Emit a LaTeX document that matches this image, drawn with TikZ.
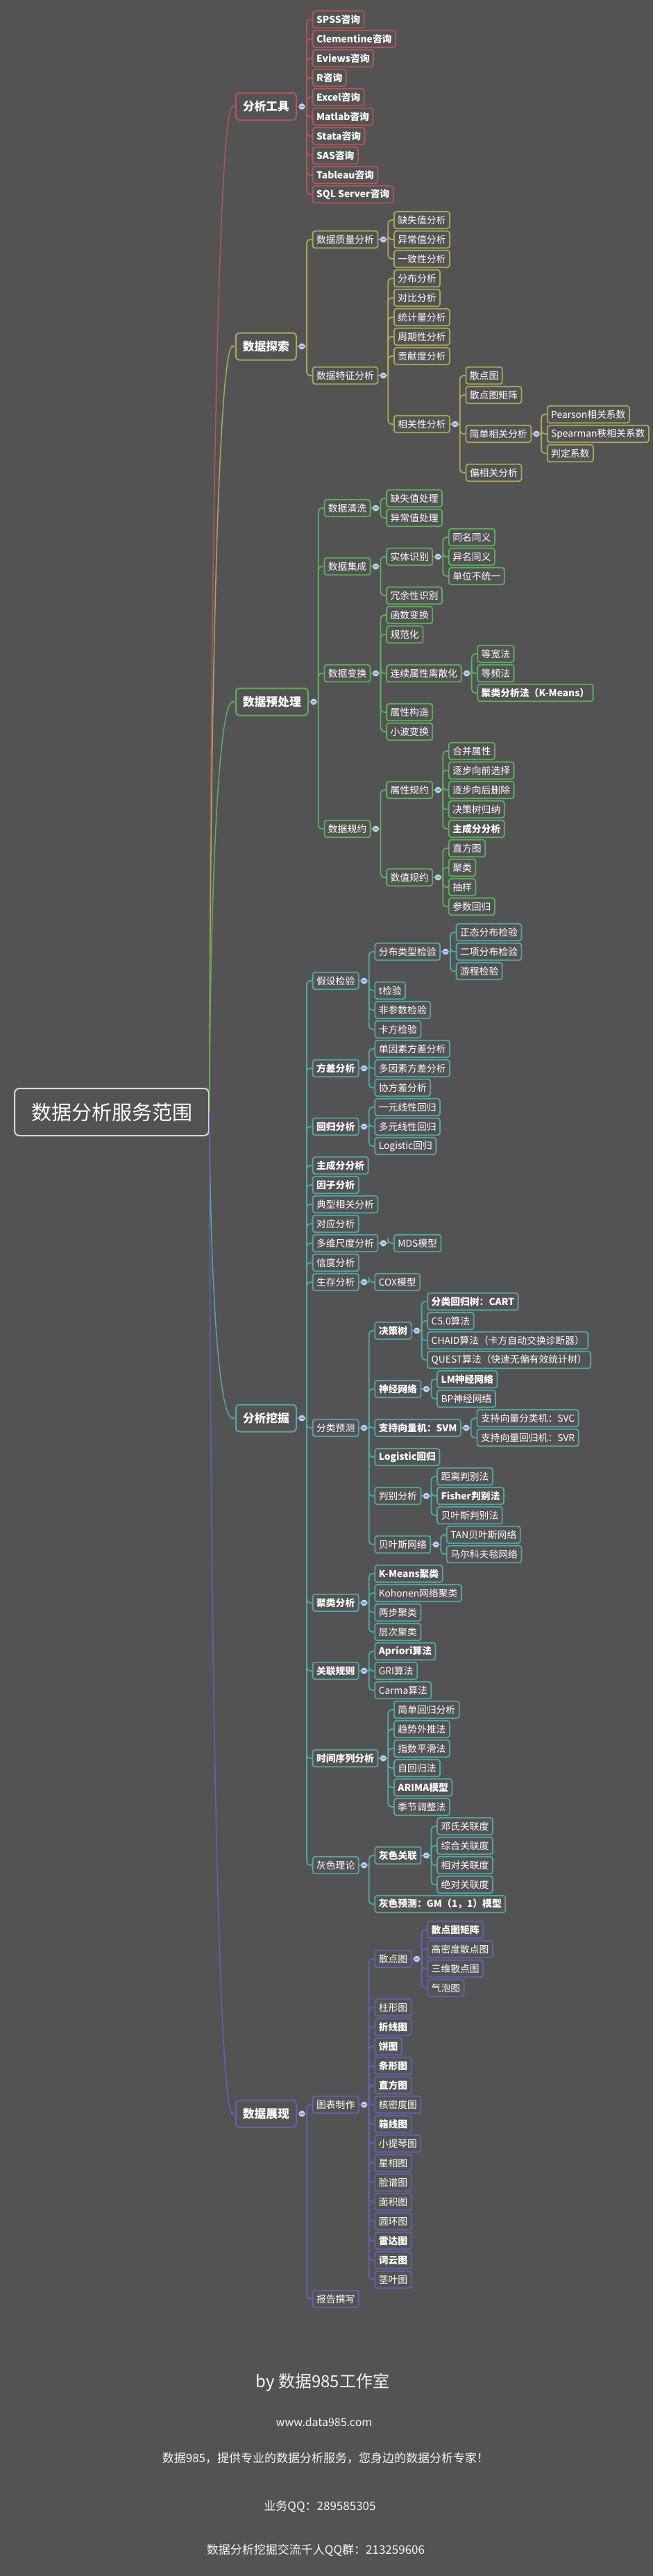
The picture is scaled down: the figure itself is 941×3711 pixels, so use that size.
\documentclass[tikz,border=0pt]{standalone}
\usepackage{fontspec}
\setmainfont{Noto Sans CJK SC}
\usetikzlibrary{arrows.meta, positioning, calc}

\definecolor{bg}{RGB}{83,83,83}
\definecolor{redc}{RGB}{178,86,88}
\definecolor{yelc}{RGB}{170,168,86}
\definecolor{grnc}{RGB}{92,176,92}
\definecolor{tealc}{RGB}{80,168,166}
\definecolor{purc}{RGB}{98,98,178}
\definecolor{hubc}{RGB}{215,215,215}
\definecolor{dotc}{RGB}{196,208,240}
\definecolor{dotbar}{RGB}{120,140,200}
\colorlet{brc}{redc}

\begin{document}
\begin{tikzpicture}[x=1pt, y=-1pt,
    box/.style={draw=brc, line width=1.8pt, rounded corners=3.5pt, fill=bg,
                text=white, font=\fontsize{13.8}{16}\selectfont,
                inner xsep=5.5pt, inner ysep=0pt, minimum height=24.5pt},
    bbox/.style={box, font=\fontsize{13.8}{16}\selectfont\bfseries},
    topic/.style={box, line width=2pt, rounded corners=5pt,
                  font=\fontsize{16.8}{19}\selectfont\bfseries,
                  inner xsep=10pt, minimum height=39pt, anchor=west},
    hub/.style={draw=hubc, line width=2pt, rounded corners=7pt, fill=bg,
                text=white, font=\fontsize{29}{32}\selectfont,
                inner xsep=24pt, minimum height=68pt},
    kid/.style={anchor=west, xshift=21.7pt},
    lnk/.style={brc, line width=1.8pt, rounded corners=5pt},
    arr/.style={brc, line width=1.5pt, -{Stealth[length=6pt, width=5pt]}},
    dot/.style={circle, fill=dotc, minimum size=9pt, inner sep=0pt,
                path picture={\draw[dotbar, line width=1.3pt]
                  ([xshift=-2.6pt]path picture bounding box.center) --
                  ([xshift=2.6pt]path picture bounding box.center);}},
    foot/.style={text=white!92!gray}
  ]
  \useasboundingbox (0,0) rectangle (941,3711);
  \fill[bg] (0,0) rectangle (941,3711);

  % Root
  \node[hub] (root) at (161,1602) {数据分析服务范围};

  % ---------------- 分析工具
  \begin{scope}
  \colorlet{brc}{redc}
  \node[topic] (tools) at (338.8,153.5) {分析工具};
  \node[bbox, kid] (spss) at (tools.east |- 0,28) {SPSS咨询};
  \node[bbox, kid] (clem) at (tools.east |- 0,56) {Clementine咨询};
  \node[bbox, kid] (eviews) at (tools.east |- 0,84) {Eviews咨询};
  \node[bbox, kid] (rr) at (tools.east |- 0,112) {R咨询};
  \node[bbox, kid] (excel) at (tools.east |- 0,140) {Excel咨询};
  \node[bbox, kid] (matlab) at (tools.east |- 0,168) {Matlab咨询};
  \node[bbox, kid] (stata) at (tools.east |- 0,196) {Stata咨询};
  \node[bbox, kid] (sas) at (tools.east |- 0,224) {SAS咨询};
  \node[bbox, kid] (tableau) at (tools.east |- 0,252) {Tableau咨询};
  \node[bbox, kid] (sql) at (tools.east |- 0,280) {SQL Server咨询};
  \foreach \k in {spss,clem,eviews,rr,excel,matlab,stata,sas,tableau,sql}
    \draw[lnk] (tools.east) ++(14,0) |- (\k.west);
  \draw[lnk] (tools.east) -- ++(14,0);
  \node[dot] at ([xshift=7pt]tools.east) {};
  \draw[arr] (root.east) .. controls +(0,-594) and +(-27,0) .. (tools.west);
  \end{scope}

  % ---------------- 数据探索
  \begin{scope}
  \colorlet{brc}{yelc}
  \node[topic] (explore) at (338.8,499) {数据探索};
  \node[box, kid] (quality) at (explore.east |- 0,345) {数据质量分析};
  \node[box, kid] (feature) at (explore.east |- 0,541) {数据特征分析};
  \node[box, kid] (miss) at (quality.east |- 0,317) {缺失值分析};
  \node[box, kid] (outl) at (quality.east |- 0,345) {异常值分析};
  \node[box, kid] (consis) at (quality.east |- 0,373) {一致性分析};
  \node[box, kid] (distr) at (feature.east |- 0,401) {分布分析};
  \node[box, kid] (contr) at (feature.east |- 0,429) {对比分析};
  \node[box, kid] (stats) at (feature.east |- 0,457) {统计量分析};
  \node[box, kid] (period) at (feature.east |- 0,485) {周期性分析};
  \node[box, kid] (contrib) at (feature.east |- 0,513) {贡献度分析};
  \node[box, kid] (corr) at (feature.east |- 0,611) {相关性分析};
  \node[box, kid] (scat) at (corr.east |- 0,541) {散点图};
  \node[box, kid] (scatm) at (corr.east |- 0,569) {散点图矩阵};
  \node[box, kid] (simple) at (corr.east |- 0,625) {简单相关分析};
  \node[box, kid] (partial) at (corr.east |- 0,681) {偏相关分析};
  \node[box, kid] (pearson) at (simple.east |- 0,597) {Pearson相关系数};
  \node[box, kid] (spearman) at (simple.east |- 0,625) {Spearman秩相关系数};
  \node[box, kid] (rsq) at (simple.east |- 0,653) {判定系数};
  \foreach \p/\k in {explore/quality, explore/feature,
      quality/miss, quality/outl, quality/consis,
      feature/distr, feature/contr, feature/stats, feature/period,
      feature/contrib, feature/corr,
      corr/scat, corr/scatm, corr/simple, corr/partial,
      simple/pearson, simple/spearman, simple/rsq}
    \draw[lnk] (\p.east) ++(14,0) |- (\k.west);
  \foreach \p in {explore, quality, feature, corr, simple} {
    \draw[lnk] (\p.east) -- ++(14,0);
    \node[dot] at ([xshift=7pt]\p.east) {};
  }
  \draw[arr] (root.east) .. controls +(0,-451) and +(-27,0) .. (explore.west);
  \end{scope}

  % ---------------- 数据预处理
  \begin{scope}
  \colorlet{brc}{grnc}
  \node[topic] (prep) at (338.8,1011) {数据预处理};
  \node[box, kid] (clean) at (prep.east |- 0,732) {数据清洗};
  \node[box, kid] (integ) at (prep.east |- 0,816) {数据集成};
  \node[box, kid] (trans) at (prep.east |- 0,970) {数据变换};
  \node[box, kid] (reduce) at (prep.east |- 0,1194) {数据规约};
  \node[box, kid] (cmiss) at (clean.east |- 0,718) {缺失值处理};
  \node[box, kid] (cout) at (clean.east |- 0,746) {异常值处理};
  \node[box, kid] (entity) at (integ.east |- 0,802) {实体识别};
  \node[box, kid] (redund) at (integ.east |- 0,858) {冗余性识别};
  \node[box, kid] (same) at (entity.east |- 0,774) {同名同义};
  \node[box, kid] (diff) at (entity.east |- 0,802) {异名同义};
  \node[box, kid] (unit) at (entity.east |- 0,830) {单位不统一};
  \node[box, kid] (func) at (trans.east |- 0,886) {函数变换};
  \node[box, kid] (norm) at (trans.east |- 0,914) {规范化};
  \node[box, kid] (discr) at (trans.east |- 0,970) {连续属性离散化};
  \node[box, kid] (constr) at (trans.east |- 0,1026) {属性构造};
  \node[box, kid] (wavelet) at (trans.east |- 0,1054) {小波变换};
  \node[box, kid] (ew) at (discr.east |- 0,942) {等宽法};
  \node[box, kid] (ef) at (discr.east |- 0,970) {等频法};
  \node[bbox, kid] (km) at (discr.east |- 0,998) {聚类分析法（K-Means）};
  \node[box, kid] (attr) at (reduce.east |- 0,1138) {属性规约};
  \node[box, kid] (numr) at (reduce.east |- 0,1264) {数值规约};
  \node[box, kid] (merge) at (attr.east |- 0,1082) {合并属性};
  \node[box, kid] (fwd) at (attr.east |- 0,1110) {逐步向前选择};
  \node[box, kid] (bwd) at (attr.east |- 0,1138) {逐步向后删除};
  \node[box, kid] (dtree) at (attr.east |- 0,1166) {决策树归纳};
  \node[bbox, kid] (pca) at (attr.east |- 0,1194) {主成分分析};
  \node[box, kid] (hist) at (numr.east |- 0,1222) {直方图};
  \node[box, kid] (clus) at (numr.east |- 0,1250) {聚类};
  \node[box, kid] (samp) at (numr.east |- 0,1278) {抽样};
  \node[box, kid] (preg) at (numr.east |- 0,1306) {参数回归};
  \foreach \p/\k in {prep/clean, prep/integ, prep/trans, prep/reduce,
      clean/cmiss, clean/cout, integ/entity, integ/redund,
      entity/same, entity/diff, entity/unit,
      trans/func, trans/norm, trans/discr, trans/constr, trans/wavelet,
      discr/ew, discr/ef, discr/km, reduce/attr, reduce/numr,
      attr/merge, attr/fwd, attr/bwd, attr/dtree, attr/pca,
      numr/hist, numr/clus, numr/samp, numr/preg}
    \draw[lnk] (\p.east) ++(14,0) |- (\k.west);
  \foreach \p in {prep, clean, integ, entity, trans, discr, reduce, attr, numr} {
    \draw[lnk] (\p.east) -- ++(14,0);
    \node[dot] at ([xshift=7pt]\p.east) {};
  }
  \draw[arr] (root.east) .. controls +(0,-242) and +(-27,0) .. (prep.west);
  \end{scope}

  % ---------------- 分析挖掘
  \begin{scope}
  \colorlet{brc}{tealc}
  \node[topic] (mine) at (338.8,2043) {分析挖掘};
  \node[box, kid] (hyp) at (mine.east |- 0,1413) {假设检验};
  \node[bbox, kid] (anova) at (mine.east |- 0,1539) {方差分析};
  \node[bbox, kid] (regr) at (mine.east |- 0,1623) {回归分析};
  \node[bbox, kid] (pcaa) at (mine.east |- 0,1679) {主成分分析};
  \node[bbox, kid] (factor) at (mine.east |- 0,1707) {因子分析};
  \node[box, kid] (cca) at (mine.east |- 0,1735) {典型相关分析};
  \node[box, kid] (corresp) at (mine.east |- 0,1763) {对应分析};
  \node[box, kid] (mds) at (mine.east |- 0,1791) {多维尺度分析};
  \node[box, kid] (rel) at (mine.east |- 0,1819) {信度分析};
  \node[box, kid] (surv) at (mine.east |- 0,1847) {生存分析};
  \node[box, kid] (cls) at (mine.east |- 0,2057) {分类预测};
  \node[bbox, kid] (clu) at (mine.east |- 0,2309) {聚类分析};
  \node[bbox, kid] (assoc) at (mine.east |- 0,2407) {关联规则};
  \node[bbox, kid] (ts) at (mine.east |- 0,2533) {时间序列分析};
  \node[box, kid] (grey) at (mine.east |- 0,2687) {灰色理论};
  % 假设检验
  \node[box, kid] (dtype) at (hyp.east |- 0,1371) {分布类型检验};
  \node[box, kid] (ttest) at (hyp.east |- 0,1427) {t检验};
  \node[box, kid] (nonpar) at (hyp.east |- 0,1455) {非参数检验};
  \node[box, kid] (chisq) at (hyp.east |- 0,1483) {卡方检验};
  \node[box, kid] (normal) at (dtype.east |- 0,1343) {正态分布检验};
  \node[box, kid] (binom) at (dtype.east |- 0,1371) {二项分布检验};
  \node[box, kid] (runs) at (dtype.east |- 0,1399) {游程检验};
  % 方差 / 回归
  \node[box, kid] (one) at (anova.east |- 0,1511) {单因素方差分析};
  \node[box, kid] (multi) at (anova.east |- 0,1539) {多因素方差分析};
  \node[box, kid] (cov) at (anova.east |- 0,1567) {协方差分析};
  \node[box, kid] (lin) at (regr.east |- 0,1595) {一元线性回归};
  \node[box, kid] (mlin) at (regr.east |- 0,1623) {多元线性回归};
  \node[box, kid] (logit) at (regr.east |- 0,1651) {Logistic回归};
  \node[box, kid] (mdsm) at (mds.east |- 0,1791) {MDS模型};
  \node[box, kid] (cox) at (surv.east |- 0,1847) {COX模型};
  % 分类预测
  \node[bbox, kid] (tree) at (cls.east |- 0,1917) {决策树};
  \node[bbox, kid] (nn) at (cls.east |- 0,2001) {神经网络};
  \node[bbox, kid] (svm) at (cls.east |- 0,2057) {支持向量机：SVM};
  \node[bbox, kid] (lgr) at (cls.east |- 0,2099) {Logistic回归};
  \node[box, kid] (disc) at (cls.east |- 0,2155) {判别分析};
  \node[box, kid] (bayes) at (cls.east |- 0,2225) {贝叶斯网络};
  \node[bbox, kid] (cart) at (tree.east |- 0,1875) {分类回归树：CART};
  \node[box, kid] (c50) at (tree.east |- 0,1903) {C5.0算法};
  \node[box, kid] (chaid) at (tree.east |- 0,1931) {CHAID算法（卡方自动交换诊断器）};
  \node[box, kid] (quest) at (tree.east |- 0,1959) {QUEST算法（快速无偏有效统计树）};
  \node[bbox, kid] (lm) at (nn.east |- 0,1987) {LM神经网络};
  \node[box, kid] (bp) at (nn.east |- 0,2015) {BP神经网络};
  \node[box, kid] (svc) at (svm.east |- 0,2043) {支持向量分类机：SVC};
  \node[box, kid] (svr) at (svm.east |- 0,2071) {支持向量回归机：SVR};
  \node[box, kid] (dist) at (disc.east |- 0,2127) {距离判别法};
  \node[bbox, kid] (fisher) at (disc.east |- 0,2155) {Fisher判别法};
  \node[box, kid] (bayesd) at (disc.east |- 0,2183) {贝叶斯判别法};
  \node[box, kid] (tan) at (bayes.east |- 0,2211) {TAN贝叶斯网络};
  \node[box, kid] (markov) at (bayes.east |- 0,2239) {马尔科夫毯网络};
  % 聚类 / 关联 / 时序 / 灰色
  \node[bbox, kid] (kmeans) at (clu.east |- 0,2267) {K-Means聚类};
  \node[box, kid] (kohonen) at (clu.east |- 0,2295) {Kohonen网络聚类};
  \node[box, kid] (twostep) at (clu.east |- 0,2323) {两步聚类};
  \node[box, kid] (hier) at (clu.east |- 0,2351) {层次聚类};
  \node[bbox, kid] (apriori) at (assoc.east |- 0,2379) {Apriori算法};
  \node[box, kid] (gri) at (assoc.east |- 0,2407) {GRI算法};
  \node[box, kid] (carma) at (assoc.east |- 0,2435) {Carma算法};
  \node[box, kid] (sreg) at (ts.east |- 0,2463) {简单回归分析};
  \node[box, kid] (trend) at (ts.east |- 0,2491) {趋势外推法};
  \node[box, kid] (smooth) at (ts.east |- 0,2519) {指数平滑法};
  \node[box, kid] (ar) at (ts.east |- 0,2547) {自回归法};
  \node[bbox, kid] (arima) at (ts.east |- 0,2575) {ARIMA模型};
  \node[box, kid] (season) at (ts.east |- 0,2603) {季节调整法};
  \node[bbox, kid] (greya) at (grey.east |- 0,2673) {灰色关联};
  \node[bbox, kid] (gm) at (grey.east |- 0,2743) {灰色预测：GM（1，1）模型};
  \node[box, kid] (deng) at (greya.east |- 0,2631) {邓氏关联度};
  \node[box, kid] (comb) at (greya.east |- 0,2659) {综合关联度};
  \node[box, kid] (relat) at (greya.east |- 0,2687) {相对关联度};
  \node[box, kid] (absol) at (greya.east |- 0,2715) {绝对关联度};
  \foreach \p/\k in {mine/hyp, mine/anova, mine/regr, mine/pcaa, mine/factor,
      mine/cca, mine/corresp, mine/mds, mine/rel, mine/surv, mine/cls,
      mine/clu, mine/assoc, mine/ts, mine/grey,
      hyp/dtype, hyp/ttest, hyp/nonpar, hyp/chisq,
      dtype/normal, dtype/binom, dtype/runs,
      anova/one, anova/multi, anova/cov, regr/lin, regr/mlin, regr/logit,
      mds/mdsm, surv/cox,
      cls/tree, cls/nn, cls/svm, cls/lgr, cls/disc, cls/bayes,
      tree/cart, tree/c50, tree/chaid, tree/quest, nn/lm, nn/bp,
      svm/svc, svm/svr, disc/dist, disc/fisher, disc/bayesd,
      bayes/tan, bayes/markov,
      clu/kmeans, clu/kohonen, clu/twostep, clu/hier,
      assoc/apriori, assoc/gri, assoc/carma,
      ts/sreg, ts/trend, ts/smooth, ts/ar, ts/arima, ts/season,
      grey/greya, grey/gm, greya/deng, greya/comb, greya/relat, greya/absol}
    \draw[lnk] (\p.east) ++(14,0) |- (\k.west);
  \foreach \p in {mine, hyp, dtype, anova, regr, mds, surv, cls, tree, nn,
      svm, disc, bayes, clu, assoc, ts, grey, greya} {
    \draw[lnk] (\p.east) -- ++(14,0);
    \node[dot] at ([xshift=7pt]\p.east) {};
  }
  \draw[arr] (root.east) .. controls +(0,182) and +(-27,0) .. (mine.west);
  \end{scope}

  % ---------------- 数据展现
  \begin{scope}
  \colorlet{brc}{purc}
  \node[topic] (show) at (338.8,3045) {数据展现};
  \node[box, kid] (chart) at (show.east |- 0,3032) {图表制作};
  \node[box, kid] (report) at (show.east |- 0,3312) {报告撰写};
  \node[box, kid] (sct) at (chart.east |- 0,2822) {散点图};
  \node[box, kid] (bar) at (chart.east |- 0,2892) {柱形图};
  \node[bbox, kid] (lineg) at (chart.east |- 0,2920) {折线图};
  \node[bbox, kid] (pie) at (chart.east |- 0,2948) {饼图};
  \node[bbox, kid] (hbar) at (chart.east |- 0,2976) {条形图};
  \node[bbox, kid] (histo) at (chart.east |- 0,3004) {直方图};
  \node[box, kid] (kde) at (chart.east |- 0,3032) {核密度图};
  \node[bbox, kid] (boxp) at (chart.east |- 0,3060) {箱线图};
  \node[box, kid] (violin) at (chart.east |- 0,3088) {小提琴图};
  \node[box, kid] (star) at (chart.east |- 0,3116) {星相图};
  \node[box, kid] (face) at (chart.east |- 0,3144) {脸谱图};
  \node[box, kid] (area) at (chart.east |- 0,3172) {面积图};
  \node[box, kid] (donut) at (chart.east |- 0,3200) {圆环图};
  \node[bbox, kid] (radar) at (chart.east |- 0,3228) {雷达图};
  \node[bbox, kid] (cloud) at (chart.east |- 0,3256) {词云图};
  \node[box, kid] (stem) at (chart.east |- 0,3284) {茎叶图};
  \node[bbox, kid] (sctm) at (sct.east |- 0,2780) {散点图矩阵};
  \node[box, kid] (dense) at (sct.east |- 0,2808) {高密度散点图};
  \node[box, kid] (three) at (sct.east |- 0,2836) {三维散点图};
  \node[box, kid] (bubble) at (sct.east |- 0,2864) {气泡图};
  \foreach \p/\k in {show/chart, show/report,
      chart/sct, chart/bar, chart/lineg, chart/pie, chart/hbar, chart/histo,
      chart/kde, chart/boxp, chart/violin, chart/star, chart/face,
      chart/area, chart/donut, chart/radar, chart/cloud, chart/stem,
      sct/sctm, sct/dense, sct/three, sct/bubble}
    \draw[lnk] (\p.east) ++(14,0) |- (\k.west);
  \foreach \p in {show, chart, sct} {
    \draw[lnk] (\p.east) -- ++(14,0);
    \node[dot] at ([xshift=7pt]\p.east) {};
  }
  \draw[arr] (root.east) .. controls +(0,593) and +(-27,0) .. (show.west);
  \end{scope}

  % Footer
  \node[foot, font=\fontsize{24}{28}\selectfont] (by) at (465,3432) {by 数据985工作室};
  \node[foot, font=\fontsize{16}{19}\selectfont] (web) at (467,3489) {www.data985.com};
  \node[foot, font=\fontsize{17}{20}\selectfont] (motto) at (469,3541) {数据985，提供专业的数据分析服务，您身边的数据分析专家！};
  \node[foot, font=\fontsize{17}{20}\selectfont] (qq) at (461,3611) {业务QQ：289585305};
  \node[foot, font=\fontsize{17}{20}\selectfont] (group) at (455,3674) {数据分析挖掘交流千人QQ群：213259606};
\end{tikzpicture}
\end{document}
